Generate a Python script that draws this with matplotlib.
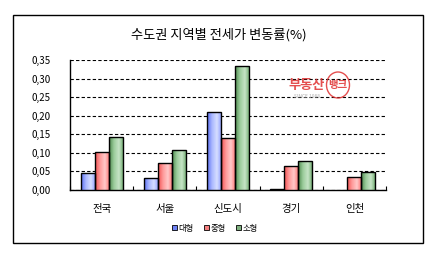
import numpy as np
import matplotlib
matplotlib.use("Agg")
import matplotlib.pyplot as plt
from matplotlib.patches import Rectangle, Ellipse
from matplotlib.colors import LinearSegmentedColormap

plt.rcParams['font.family'] = ['Noto Sans CJK KR', 'DejaVu Sans']

title = "수도권 지역별 전세가 변동률(%)"
regions = ["전국", "서울", "신도시", "경기", "인천"]
series_names = ["대형", "중형", "소형"]
large = [0.045, 0.031, 0.209, 0.002, 0.0]
medium = [0.101, 0.074, 0.139, 0.064, 0.034]
small = [0.144, 0.107, 0.333, 0.077, 0.048]
yticks = [0.0, 0.05, 0.10, 0.15, 0.20, 0.25, 0.30, 0.35]

# gradient colours (dark edge -> light middle -> slightly dark edge)
grads = [
    ["#5a6ef0", "#aab8ff", "#d6deff", "#8c9cff"],
    ["#f05050", "#ff9a9a", "#ffc8c8", "#ff7070"],
    ["#4e8c4e", "#9ccc9c", "#c6e4c6", "#6aa86a"],
]
legend_colors = ["#6f82f5", "#f57f7f", "#7fb07f"]

fig = plt.figure(figsize=(4.35, 2.56), dpi=100)
fig.patch.set_facecolor("white")

# outer chart frame
fig.add_artist(Rectangle((13 / 435, 1 - 243 / 256), 410 / 435, 228 / 256,
                         transform=fig.transFigure, fill=False,
                         edgecolor="black", linewidth=1.0))

ax = fig.add_axes([70 / 435, 1 - 190 / 256, 316 / 435, 130 / 256])
ax.set_xlim(-0.5, len(regions) - 0.5)
ax.set_ylim(0, 0.35)

width = 0.222
x = np.arange(len(regions))
for i, vals in enumerate([large, medium, small]):
    cmap = LinearSegmentedColormap.from_list("g%d" % i, grads[i])
    grad = np.linspace(0, 1, 64).reshape(1, -1)
    for xi, v in zip(x, vals):
        left = xi + (i - 1) * width - width / 2
        if v <= 0:
            continue
        rect = Rectangle((left, 0), width, v, facecolor="none",
                         edgecolor="black", linewidth=1.0, zorder=4)
        ax.add_patch(rect)
        im = ax.imshow(grad, cmap=cmap, aspect="auto",
                       extent=(left, left + width, 0, v), zorder=3)
        im.set_clip_path(rect)

ax.set_xlim(-0.5, len(regions) - 0.5)
ax.set_ylim(0, 0.35)

ax.set_yticks(yticks)
ax.set_yticklabels([("%.2f" % t).replace(".", ",") for t in yticks])
ax.yaxis.grid(True, linestyle=(0, (3, 2)), color="black", linewidth=0.8)
ax.set_axisbelow(True)
ax.tick_params(axis="y", length=0, pad=14, labelsize=7)

ax.set_xticks(x)
ax.set_xticklabels(regions)
ax.tick_params(axis="x", length=0, pad=10, labelsize=7.5)
ax.set_xticks(np.arange(len(regions) + 1) - 0.5, minor=True)
ax.tick_params(axis="x", which="minor", direction="in", length=3, width=0.8)

for s in ["top", "right"]:
    ax.spines[s].set_visible(False)
ax.spines["left"].set_linewidth(1.0)
ax.spines["bottom"].set_linewidth(1.0)

fig.text(219 / 435, 1 - 35 / 256, title, ha="center", va="center", fontsize=9.5)

# legend
handles = [Rectangle((0, 0), 1, 1, facecolor=c, edgecolor="black", linewidth=0.6)
           for c in legend_colors]
fig.legend(handles, series_names, loc="center", bbox_to_anchor=(215 / 435, 1 - 228 / 256),
           ncol=3, frameon=False, fontsize=6, handlelength=0.6, handleheight=0.6,
           handletextpad=0.2, columnspacing=1.2)

# watermark logo
fig.text(307 / 435, 1 - 85 / 256, "부동산", color="#e03030", fontsize=9.5,
         fontweight="bold", ha="center", va="center", alpha=0.85)
fig.text(338 / 435, 1 - 85 / 256, "뱅크", color="#e03030", fontsize=7.5,
         fontweight="bold", ha="center", va="center", alpha=0.85)
fig.add_artist(Ellipse((338 / 435, 1 - 85 / 256), 23 / 435, 26 / 256,
                       transform=fig.transFigure, fill=False,
                       edgecolor="#e03030", linewidth=1.0, alpha=0.85))
fig.text(307 / 435, 1 - 97 / 256, "SINCE 1988", color="#b0b0b0", fontsize=3.5,
         ha="center", va="center")

fig.savefig("out.png", dpi=100)
